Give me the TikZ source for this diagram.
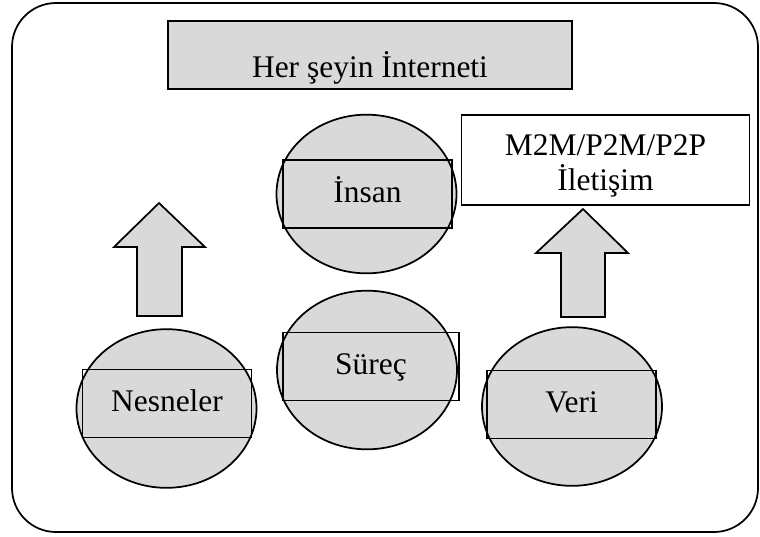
\documentclass[tikz,border=0pt]{standalone}
\usepackage{fontspec}
\setmainfont{Liberation Serif}
\newfontfamily\boxfont{Liberation Serif}
\usetikzlibrary{shapes.geometric}
\definecolor{boxgray}{RGB}{217,217,217}

\begin{document}
\begin{tikzpicture}[x=0.75pt,y=-0.75pt,
  line width=1.3pt,
  oval node/.style={ellipse,draw,fill=boxgray,minimum width=135pt,minimum height=119pt,inner sep=0pt},
  word box/.style={rectangle,draw,inner sep=0pt,minimum width=126.75pt,minimum height=51pt,
    text height=16.5pt,text depth=4.5pt,font=\boxfont\fontsize{23.6}{26.3}\selectfont},
  up arrow/.style={draw,fill=boxgray,line join=miter}]
  \useasboundingbox (0,0) rectangle (760,536);
  \draw[rounded corners=33pt] (12,3) rectangle (758,532);

  % title and communication boxes
  \node[word box,fill=boxgray,minimum width=303pt,text height=33pt,text depth=0pt] (0) at (370,55) {Her şeyin İnterneti};
  \node[word box,fill=white,minimum width=216pt,minimum height=67.5pt,align=center,
    text height=,text depth=] (5) at (605.5,160) {\rule{0pt}{25pt}M2M/P2M/P2P\\İletişim};

  % ellipses
  \node[oval node] (1) at (166.5,408.5) {};
  \node[oval node] (2) at (366.5,194) {};
  \node[oval node] (3) at (367,370) {};
  \node[oval node] (4) at (572,406.5) {};

  % labels
  \node[word box] (1t) at (167,403.5) {Nesneler};
  \node[word box] (2t) at (367.5,194) {İnsan};
  \node[word box,minimum width=132pt] (3t) at (371,366.5) {Süreç};
  \node[word box] (4t) at (571.5,404.5) {Veri};

  % block arrows
  \draw[up arrow] (137,316) -- (137,247) -- (114,247) -- (159,203) -- (205,247)
    -- (182,247) -- (182,316) -- cycle;
  \draw[up arrow] (561,317) -- (561,253) -- (536,253) -- (583,209) -- (628,253)
    -- (605,253) -- (605,317) -- cycle;
\end{tikzpicture}
\end{document}
